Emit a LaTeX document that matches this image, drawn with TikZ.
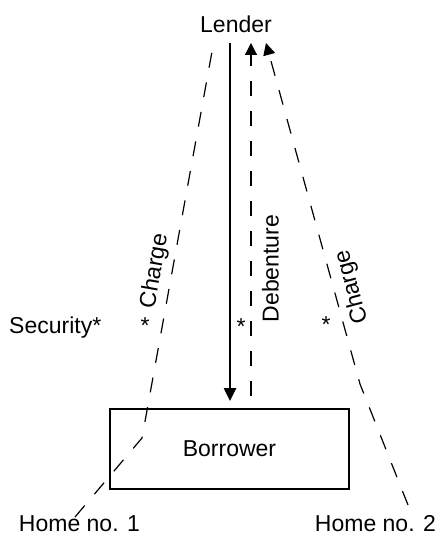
\documentclass[tikz,border=0pt]{standalone}
\usepackage{fontspec}
\setmainfont{Liberation Sans}
\usetikzlibrary{arrows.meta}
\begin{document}
\begin{tikzpicture}[x=1pt,y=-1pt,
  lbl/.style={font=\fontsize{23}{27}\selectfont, inner sep=0pt},
  partybox/.style={draw, line width=2.5pt, minimum width=239pt, minimum height=80pt},
  dashline/.style={line width=1.2pt, dash pattern=on 15pt off 15pt},
  loanline/.style={line width=2.5pt, -{Triangle[length=13pt,width=12pt]}},
  tiphead/.style={-{Triangle[length=12pt,width=12pt]}},
]
\useasboundingbox (0,0) rectangle (437,535);

% parties
\node[lbl, anchor=base] (lender) at (236,32.3) {Lender};
\node[lbl, partybox] (borrower) at (229.5,449) {Borrower};
\node[lbl, anchor=base] (home1) at (79.5,531) {Home no. 1};
\node[lbl, anchor=base] (home2) at (375.5,531) {Home no. 2};

% labels
\node[lbl, anchor=base west] (security) at (9,333.5) {Security*};
\node[lbl, anchor=base] (starL) at (145,333.5) {*};
\node[lbl, anchor=base] (starM) at (241,334.5) {*};
\node[lbl, anchor=base] (starR) at (326,332.5) {*};
\node[lbl, rotate=80] (chargeL) at (155,271) {Charge};
\node[lbl, rotate=90] (debenture) at (270.5,268.5) {Debenture};
\node[lbl, rotate=105] (chargeR) at (352,287) {Charge};

% end points of the connectors
\coordinate (loanTop) at (230,43);
\coordinate (loanEnd) at (230,401);
\coordinate (debBot) at (251,396);
\coordinate (debTop) at (251,43);
\coordinate (h2Top) at (408,505);
\coordinate (h2Bend) at (360,384);
\coordinate (h2Tip) at (266,43);
\coordinate (h1Top) at (75,517);
\coordinate (h1Bend) at (142,438);
\coordinate (h1End) at (213,46);

% loan and securities
\draw[loanline] (loanTop) -- (loanEnd);
\draw[dashline, tiphead] (debBot) -- (debTop);
\draw[dashline, tiphead] (h2Top) -- (h2Bend) -- (h2Tip);
\draw[dashline] (h1Top) -- (h1Bend) -- (h1End);
\end{tikzpicture}
\end{document}
